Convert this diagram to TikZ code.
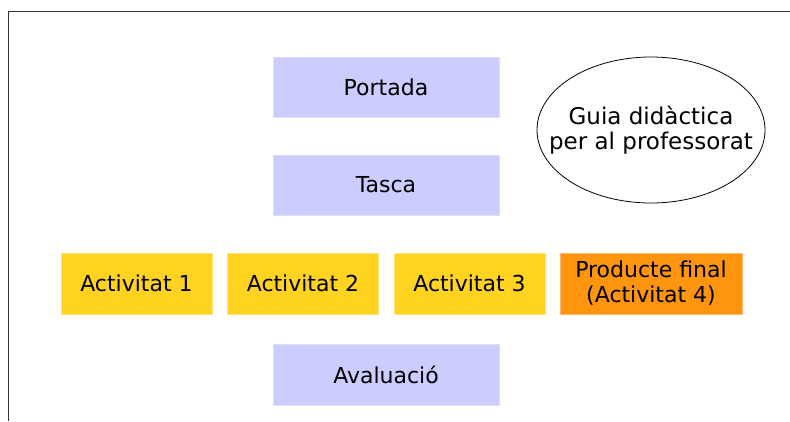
\documentclass[tikz,border=0pt]{standalone}
\usepackage{fontspec}
\setmainfont{DejaVu Sans}
\definecolor{lav}{HTML}{CCCCFF}
\definecolor{lavedge}{HTML}{DCDCFF}
\definecolor{yel}{HTML}{FFD320}
\definecolor{yeledge}{HTML}{FFE27A}
\definecolor{ora}{HTML}{FF950E}
\definecolor{oraedge}{HTML}{FFB870}
\definecolor{framec}{HTML}{333333}
\tikzset{
  base/.style={rectangle, inner sep=0pt, font=\fontsize{22}{25}\selectfont, align=center, line width=0.8pt},
  lavbox/.style={base, fill=lav, draw=lavedge, minimum width=226pt, minimum height=60pt},
  actbox/.style={base, fill=yel, draw=yeledge, minimum width=151pt, minimum height=61pt},
  finbox/.style={base, fill=ora, draw=oraedge, minimum width=182pt, minimum height=61pt},
  guidetext/.style={inner sep=0pt, font=\fontsize{23}{25}\selectfont, align=center},
  guideline/.style={draw=black, line width=0.8pt},
  frameline/.style={draw=framec, line width=1pt}
}
\begin{document}
\begin{tikzpicture}[x=1pt,y=-1pt]
\useasboundingbox (0,0) rectangle (790,421);
\coordinate (fc) at (8.5,421);
\coordinate (ftl) at (8.5,11.5);
\coordinate (ftr) at (790,11.5);
\draw[frameline] (fc) -- (ftl) -- (ftr);
\node[lavbox] (portada) at (386,87) {Portada};
\node[lavbox] (tasca) at (386,185) {Tasca};
\node[actbox] (a1) at (136.5,283.5) {Activitat 1};
\node[actbox] (a2) at (303,283.5) {Activitat 2};
\node[actbox] (a3) at (469.5,283.5) {Activitat 3};
\node[finbox] (pf) at (651,283.5) {Producte final\\(Activitat 4)};
\node[lavbox, minimum height=61pt] (aval) at (386,374.5) {Avaluació};
\node[guidetext] (guia) at (651,130) {Guia didàctica\\per al professorat};
\draw[guideline] (guia.center) ellipse [x radius=114, y radius=73];
\end{tikzpicture}
\end{document}
